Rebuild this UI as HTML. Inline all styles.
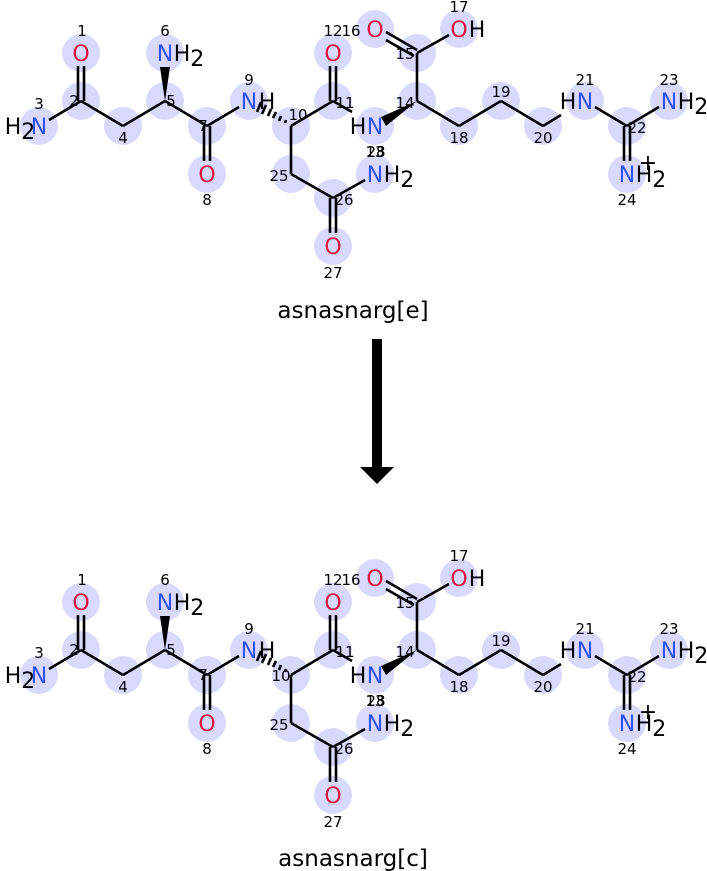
<!DOCTYPE html>
<html><head><meta charset="utf-8"><style>
html,body{margin:0;padding:0;background:#fff;width:707px;height:871px;overflow:hidden}
svg{display:block}
.a{font-family:"DejaVu Sans","Liberation Sans",sans-serif;font-size:22px}
.i{font-family:"DejaVu Sans","Liberation Sans",sans-serif;font-size:15px;fill:#000;text-anchor:middle}
.O{fill:#e0103a}.N{fill:#3050f8}.H{fill:#000}
line{stroke:#000;stroke-width:2.6}
circle{fill:#d9d9ff}
</style></head><body>
<svg width="707" height="871" viewBox="0 0 707 871" xmlns="http://www.w3.org/2000/svg">
<defs>
<g id="mol">
 <g>
  <circle cx="81" cy="53" r="19"/><circle cx="81" cy="101" r="19"/><circle cx="39" cy="126" r="19"/>
  <circle cx="123" cy="126" r="19"/><circle cx="165" cy="101" r="19"/><circle cx="165" cy="53" r="19"/>
  <circle cx="207" cy="126" r="19"/><circle cx="207" cy="174" r="19"/><circle cx="249" cy="101" r="19"/>
  <circle cx="291" cy="126" r="19"/><circle cx="333" cy="101" r="19"/><circle cx="333" cy="53" r="19"/>
  <circle cx="375" cy="126" r="19"/><circle cx="417" cy="101" r="19"/><circle cx="417" cy="53" r="19"/>
  <circle cx="375" cy="29" r="19"/><circle cx="459" cy="29" r="19"/><circle cx="459" cy="126" r="19"/>
  <circle cx="501" cy="101" r="19"/><circle cx="543" cy="126" r="19"/><circle cx="585" cy="101" r="19"/>
  <circle cx="627" cy="126" r="19"/><circle cx="669" cy="101" r="19"/><circle cx="627" cy="174" r="19"/>
  <circle cx="291" cy="174" r="19"/><circle cx="333" cy="198" r="19"/><circle cx="333" cy="246" r="19"/>
  <circle cx="375" cy="174" r="19"/>
 </g>
 <g>
  <line x1="78" y1="101" x2="78" y2="66"/><line x1="84" y1="101" x2="84" y2="66"/>
  <line x1="81" y1="101" x2="49" y2="120"/>
  <line x1="81" y1="101" x2="123" y2="126"/>
  <line x1="123" y1="126" x2="165" y2="101"/>
  <polygon points="165,101 160,67 170,67" fill="#000"/>
  <line x1="165" y1="101" x2="207" y2="126"/>
  <line x1="204" y1="126" x2="204" y2="161"/><line x1="210" y1="126" x2="210" y2="161"/>
  <line x1="207" y1="126" x2="239" y2="107"/>
  <line x1="291" y1="126" x2="333" y2="101"/>
  <line x1="330" y1="101" x2="330" y2="66"/><line x1="336" y1="101" x2="336" y2="66"/>
  <line x1="333" y1="101" x2="352" y2="112"/>
  <line x1="291" y1="126" x2="291" y2="174"/>
  <line x1="291" y1="174" x2="333" y2="198"/>
  <line x1="330" y1="198" x2="330" y2="233"/><line x1="336" y1="198" x2="336" y2="233"/>
  <line x1="333" y1="198" x2="365" y2="180"/>
  <polygon points="417,101 386,126 381,117" fill="#000"/>
  <line x1="417" y1="101" x2="417" y2="53"/>
  <line x1="417" y1="50" x2="386" y2="32"/><line x1="414" y1="56" x2="386" y2="40"/>
  <line x1="417" y1="53" x2="449" y2="35"/>
  <line x1="417" y1="101" x2="459" y2="126"/>
  <line x1="459" y1="126" x2="501" y2="101"/>
  <line x1="501" y1="101" x2="543" y2="126"/>
  <line x1="543" y1="126" x2="561" y2="115"/>
  <line x1="595" y1="107" x2="627" y2="126"/>
  <line x1="627" y1="126" x2="659" y2="107"/>
  <line x1="624" y1="126" x2="624" y2="161"/><line x1="630" y1="126" x2="630" y2="161"/>
 </g>
 <g class="a" text-anchor="middle">
  <text x="81" y="61" class="O">O</text>
  <text x="39" y="134" class="N">N</text>
  <text x="20" y="134" class="H">H<tspan dy="5">2</tspan></text>
  <text x="165" y="61" class="N">N</text>
  <text x="189" y="61" class="H">H<tspan dy="5">2</tspan></text>
  <text x="207" y="182" class="O">O</text>
  <text x="249" y="109" class="N">N</text>
  <text x="267" y="109" class="H">H</text>
  <text x="333" y="61" class="O">O</text>
  <text x="375" y="134" class="N">N</text>
  <text x="358" y="134" class="H">H</text>
  <text x="375" y="37" class="O">O</text>
  <text x="459" y="37" class="O">O</text>
  <text x="477" y="37" class="H">H</text>
  <text x="585" y="109" class="N">N</text>
  <text x="568" y="109" class="H">H</text>
  <text x="669" y="109" class="N">N</text>
  <text x="693" y="109" class="H">H<tspan dy="5">2</tspan></text>
  <text x="627" y="182" class="N">N</text>
  <text x="651" y="182" class="H">H<tspan dy="5">2</tspan></text>
  <text x="648" y="170" class="H">+</text>
  <text x="333" y="254" class="O">O</text>
  <text x="375" y="182" class="N">N</text>
  <text x="399" y="182" class="H">H<tspan dy="5">2</tspan></text>
 </g>
 <g class="i">
  <text x="82" y="36">1</text><text x="74" y="106">2</text><text x="39" y="109">3</text>
  <text x="123" y="143">4</text><text x="171" y="106">5</text><text x="165" y="36">6</text>
  <text x="203" y="131">7</text><text x="207" y="205">8</text><text x="249" y="85">9</text>
  <text x="333" y="36">12</text><text x="351" y="36">16</text>
  <text x="345" y="108">11</text><text x="405" y="59">15</text><text x="459" y="12">17</text>
  <text x="405" y="108">14</text><text x="375" y="157">13</text><text x="376" y="157">28</text>
  <text x="459" y="143">18</text><text x="501" y="97">19</text><text x="543" y="143">20</text>
  <text x="585" y="85">21</text><text x="669" y="85">23</text><text x="637" y="133">22</text>
  <text x="627" y="205">24</text><text x="279" y="181">25</text><text x="344" y="205">26</text>
  <text x="333" y="278">27</text>
 </g>
 <g stroke="#000" stroke-width="1.8">
  <line x1="261" y1="102" x2="257" y2="112"/><line x1="266" y1="105" x2="262" y2="114"/>
  <line x1="271" y1="109" x2="268" y2="116"/><line x1="276" y1="112" x2="273" y2="118"/>
  <line x1="281" y1="116" x2="279" y2="121"/><line x1="286" y1="120" x2="285" y2="123"/>
 </g>
</g>
</defs>
<use href="#mol"/>
<text x="298" y="120" class="i">10</text>
<text x="353" y="318" font-family="DejaVu Sans, Liberation Sans, sans-serif" font-size="23" text-anchor="middle">asnasnarg[e]</text>
<rect x="372" y="339" width="10" height="129" fill="#000"/>
<polygon points="360,467 394,467 377,484" fill="#000"/>
<g transform="translate(0,549)">
 <use href="#mol"/>
 <text x="281" y="132" class="i">10</text>
</g>
<text x="353" y="866" font-family="DejaVu Sans, Liberation Sans, sans-serif" font-size="23" text-anchor="middle">asnasnarg[c]</text>
</svg>
</body></html>
